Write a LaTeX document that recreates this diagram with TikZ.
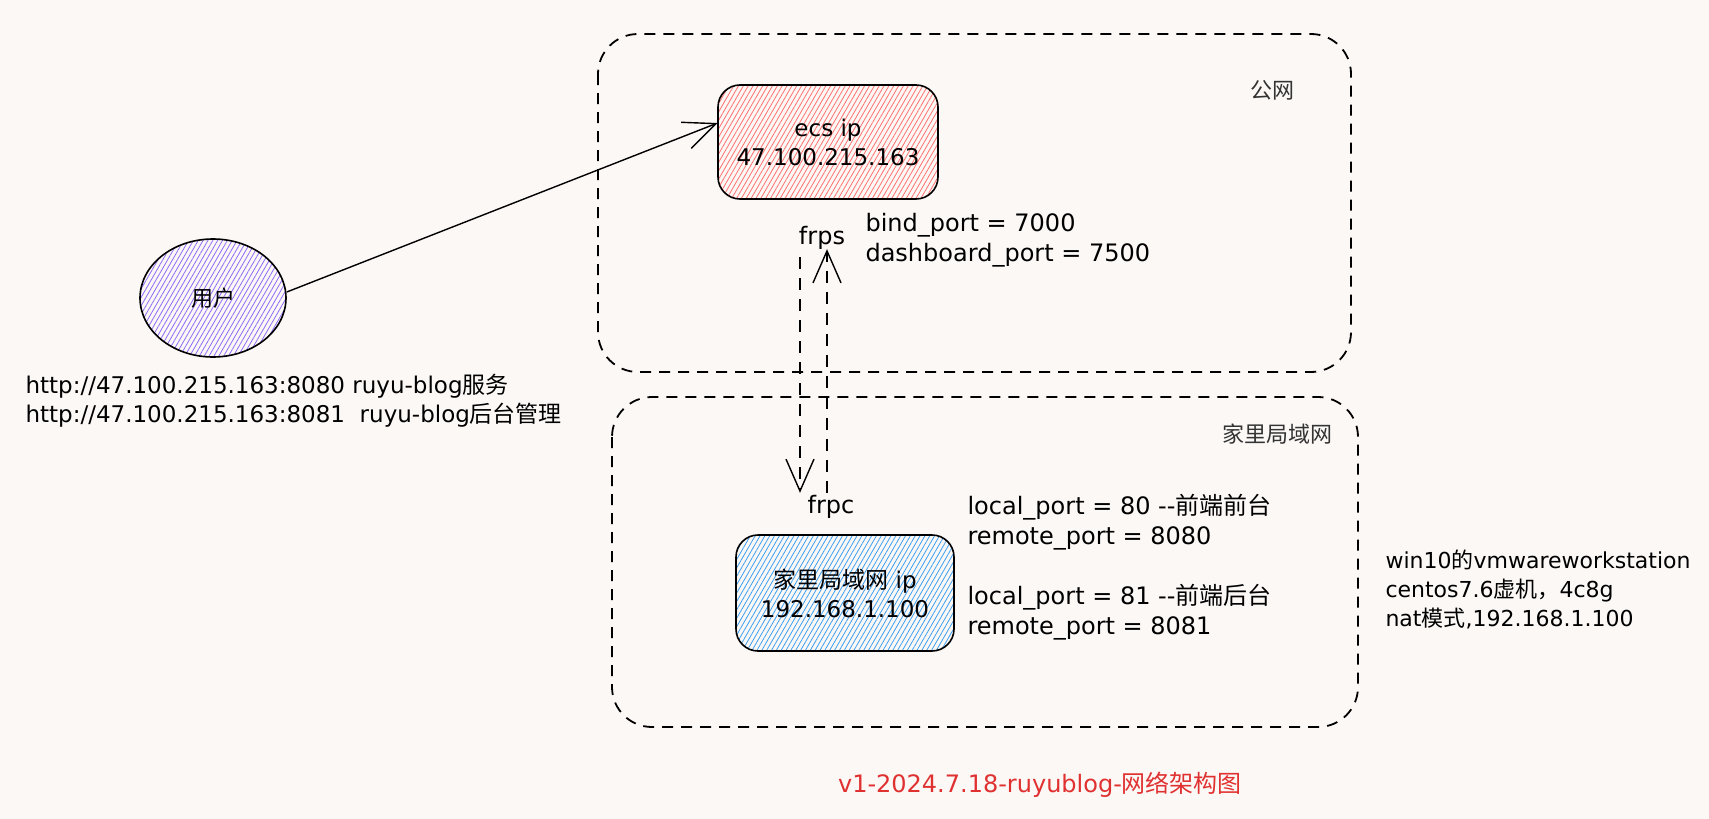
\documentclass[tikz,border=0pt]{standalone}
\usepackage{fontspec}
\setmainfont{DejaVu Sans}
\newfontfamily\cjk{Noto Sans CJK SC}
\usetikzlibrary{arrows.meta,patterns.meta,calc,shapes.geometric}
\definecolor{bg}{HTML}{FCF8F6}
\definecolor{hred}{HTML}{FF7070}
\definecolor{hblue}{HTML}{3D9FF0}
\definecolor{hpurple}{HTML}{8F6AF8}
\definecolor{titlered}{HTML}{E03131}
\tikzset{
  zone/.style={draw=black, line width=1.8pt, dash pattern=on 11pt off 8pt, rounded corners=40pt},
  hostbox/.style={draw=black, line width=1.6pt, rounded corners=22pt, minimum width=220pt, minimum height=114pt, align=center, font=\fontsize{23}{29}\selectfont},
  hatch/.style={pattern={Lines[angle=60,distance=4.2pt,line width=0.8pt]}, pattern color=#1},
  lbl/.style={align=left, anchor=west, font=\fontsize{24}{30}\selectfont},
  zonelbl/.style={font=\fontsize{22}{28}\selectfont\cjk, text=black!80},
  barb/.style={-{Straight Barb[length=32pt,width=28pt,line width=1.4pt]}},
  dashedlink/.style={line width=1.5pt, dash pattern=on 12pt off 9pt, barb},
}
\begin{document}
\begin{tikzpicture}[x=1pt,y=-1pt]
\useasboundingbox (0,0) rectangle (1709,819);
\fill[bg] (0,0) rectangle (1709,819);

% zones
\draw[zone] (598,34) rectangle (1351,372);
\draw[zone] (612,397) rectangle (1358,727);
\node[zonelbl] (pub) at (1272,90) {公网};
\node[zonelbl] (home) at (1277,434) {家里局域网};

% ecs box
\node[hostbox, hatch=hred] (ecs) at (828,142) {ecs ip\\47.100.215.163};

% home box
\node[hostbox, minimum width=218pt, minimum height=116pt, hatch=hblue] (lan) at (845,593) {{\cjk 家里局域网} ip\\192.168.1.100};

% user
\node[draw=black, line width=1.6pt, ellipse, minimum width=146pt, minimum height=118pt, hatch=hpurple, font=\fontsize{22}{26}\selectfont\cjk] (user) at (213,298) {用户};

% frps / frpc
\node[font=\fontsize{24}{30}\selectfont] (frps) at (822,238) {frps};
\node[font=\fontsize{24}{30}\selectfont] (frpc) at (831,507) {frpc};

\node[lbl] (srvcfg) at (862,240) {bind\_port = 7000\\dashboard\_port = 7500};
\node[lbl] (cfg1) at (964,522) {local\_port = 80 -{}-{\cjk 前端前台}\\remote\_port = 8080};
\node[lbl] (cfg2) at (964,612) {local\_port = 81 -{}-{\cjk 前端后台}\\remote\_port = 8081};

\node[align=left, anchor=west, font=\fontsize{23}{29}\selectfont] (urls) at (22,401) {http://47.100.215.163:8080 ruyu-blog{\cjk 服务}\\http://47.100.215.163:8081\ \ ruyu-blog{\cjk 后台管理}};

\node[align=left, anchor=west, font=\fontsize{22}{29}\selectfont] (vm) at (1382,589) {win10{\cjk 的}vmwareworkstation\\centos7.6{\cjk 虚机，}4c8g\\nat{\cjk 模式},192.168.1.100};

\node[font=\fontsize{24}{30}\selectfont, text=titlered] (title) at (1040,785) {v1-2024.7.18-ruyublog-{\cjk 网络架构图}};

% connectors
\coordinate (ua) at ($(user.east)+(0,-6)$);
\coordinate (ea) at ($(ecs.west)+(0,-19)$);
\draw[line width=1.4pt, barb] (ua) -- (ea);
\coordinate (d1) at ($(frps.south)+(-22,4)$);
\coordinate (d2) at ($(frpc.north)+(-31,1)$);
\coordinate (u1) at ($(frpc.north)+(-4,1)$);
\coordinate (u2) at ($(frps.south)+(5,-4)$);
\draw[dashedlink] (d1) -- (d2);
\draw[dashedlink] (u1) -- (u2);
\end{tikzpicture}
\end{document}
